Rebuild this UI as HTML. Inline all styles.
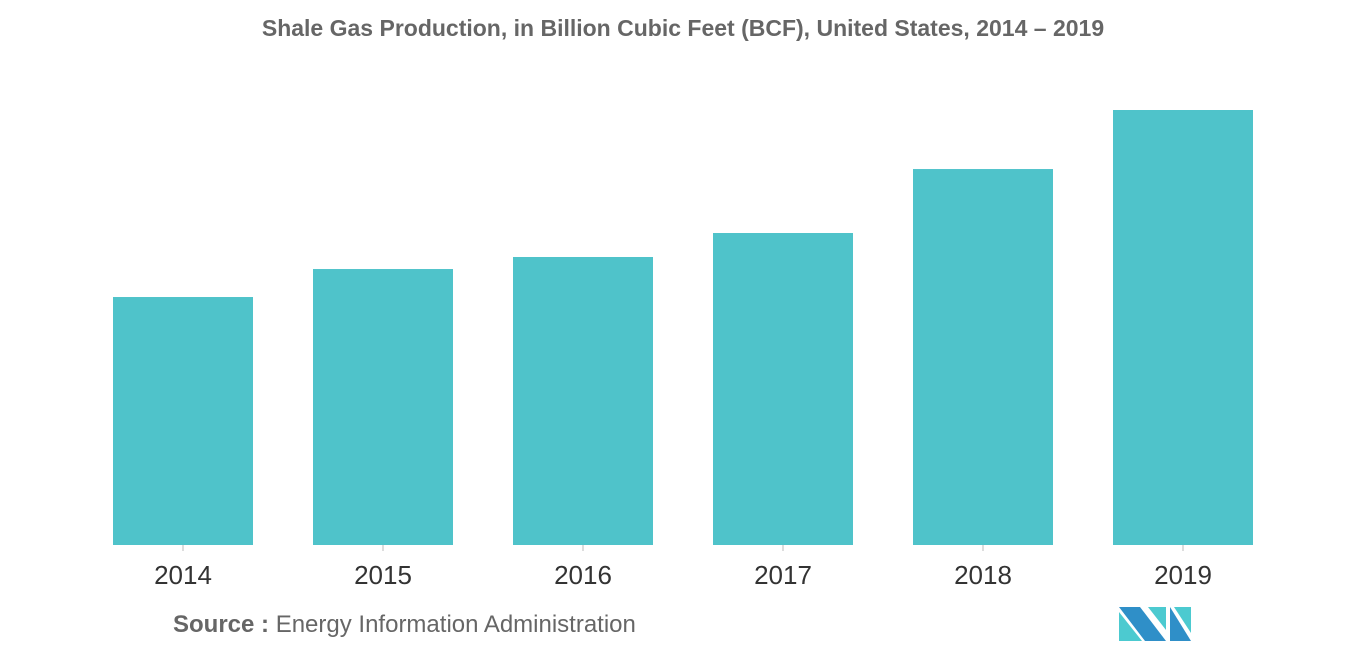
<!DOCTYPE html>
<html><head><meta charset="utf-8"><style>
body{margin:0;background:#fff;width:1366px;height:655px;overflow:hidden;font-family:"Liberation Sans",sans-serif}
</style></head><body>
<svg width="1366" height="655">
<text x="683" y="36" text-anchor="middle" font-size="23" font-weight="bold" fill="#666">Shale Gas Production, in Billion Cubic Feet (BCF), United States, 2014 – 2019</text>
<g id="bars"></g>
<g id="xaxis"></g>
<text x="173" y="632" font-size="24" fill="#666"><tspan font-weight="bold">Source :</tspan> Energy Information Administration</text>
<g>
<polygon points="1119,607 1140,607 1166,641 1145,641" fill="#2f8fc8"/>
<polygon points="1119,612 1142,641 1119,641" fill="#4ccad0"/>
<polygon points="1148,607 1166,607 1166,630" fill="#4ccad0"/>
<polygon points="1170,607 1191,641 1170,641" fill="#2f8fc8"/>
<polygon points="1174,607 1191,607 1191,633" fill="#4ccad0"/>
</g>
</svg>
<script>
const categories=["2014","2015","2016","2017","2018","2019"];
const values=[13447,14965,15617,16918,20387,23588];
const baseY=545, pxPerUnit=435/23588, x0=113, step=200, bw=140;
const y=v=>baseY-v*pxPerUnit;
const ns="http://www.w3.org/2000/svg";
const bars=document.getElementById('bars'), ax=document.getElementById('xaxis');
categories.forEach((c,i)=>{
 const x=x0+i*step;
 const r=document.createElementNS(ns,'rect');
 r.setAttribute('x',x);r.setAttribute('y',y(values[i]));r.setAttribute('width',bw);r.setAttribute('height',baseY-y(values[i]));r.setAttribute('fill','#4fc3ca');
 
 
 bars.appendChild(r);
 const t=document.createElementNS(ns,'line');
 t.setAttribute('x1',x+bw/2);t.setAttribute('x2',x+bw/2);t.setAttribute('y1',baseY);t.setAttribute('y2',baseY+6);t.setAttribute('stroke','#bbb');
 
 
 ax.appendChild(t);
 const l=document.createElementNS(ns,'text');
 l.setAttribute('x',x+bw/2);l.setAttribute('y',584);l.setAttribute('text-anchor','middle');l.setAttribute('font-size','26');l.setAttribute('fill','#333');
 l.textContent=c;
 
 
 ax.appendChild(l);
});
</script>
</body></html>
